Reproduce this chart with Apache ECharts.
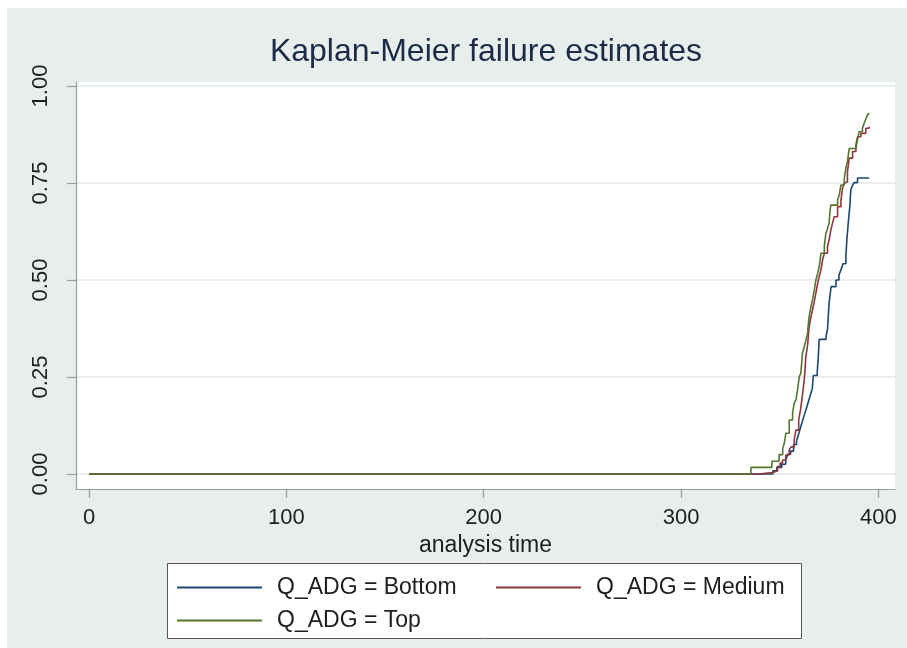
<!DOCTYPE html>
<html>
<head>
<meta charset="utf-8">
<script src="https://cdn.jsdelivr.net/npm/echarts@6/dist/echarts.min.js"></script>
<style>
  html, body { margin: 0; padding: 0; background: #ffffff; }
  #chart { width: 907px; height: 648px; }
</style>
</head>
<body>
<div id="chart"></div>
<script>
// ---- data ----
var titleText = 'Kaplan-Meier failure estimates';
var xAxisName = 'analysis time';
var xTicks = [0, 100, 200, 300, 400];
var yTicks = [0, 0.25, 0.5, 0.75, 1];
var seriesNames = ['Q_ADG = Bottom', 'Q_ADG = Medium', 'Q_ADG = Top'];

var bottomData = [
  [0,0],[346.5,0.008],[348.5,0.017],[351,0.025],[353,0.034],[354,0.051],[355.5,0.059],
  [357,0.076],[358.5,0.085],[359.5,0.102],[360.5,0.119],[361.5,0.136],[362.5,0.153],
  [363.5,0.169],[364.5,0.186],[365.5,0.203],[366.5,0.22],[367,0.254],[369,0.263],
  [369.5,0.3],[370,0.347],[373.5,0.356],[374.2,0.373],[375,0.44],[376,0.483],
  [378.5,0.5],[380,0.513],[381,0.526],[382,0.542],[383.5,0.56],[384,0.603],
  [384.7,0.646],[385.5,0.69],[386,0.732],[386.7,0.742],[387.7,0.751],[389.4,0.763],
  [395.3,0.763]
];
var mediumData = [
  [0,0],[339.6,0.004],[346.4,0.008],[348.9,0.019],[350.2,0.028],[351.4,0.036],
  [353.1,0.049],[354.8,0.062],[355.7,0.07],[357.3,0.088],[358.2,0.113],[359.6,0.139],
  [360.5,0.165],[361.2,0.191],[361.8,0.216],[362.4,0.242],[362.8,0.268],[363.2,0.302],
  [364.1,0.332],[364.9,0.38],[365.8,0.405],[366.6,0.423],[367.5,0.445],[368.3,0.466],
  [369.2,0.491],[370,0.509],[370.9,0.526],[371.7,0.552],[372.6,0.569],[374.2,0.586],
  [375,0.603],[375.9,0.629],[376.7,0.646],[377.6,0.663],[379.3,0.689],[381,0.706],
  [381.8,0.736],[382.6,0.749],[383.5,0.753],[384.3,0.779],[385.2,0.814],[386.9,0.831],
  [388.6,0.848],[389.4,0.869],[391.1,0.878],[393.6,0.891],[395.3,0.895]
];
var topData = [
  [0,0],[335.4,0.017],[346,0.033],[349.7,0.05],[351.5,0.066],[352.3,0.079],
  [353.1,0.105],[354.8,0.139],[356.5,0.156],[357.3,0.182],[358.2,0.191],[359,0.216],
  [359.9,0.251],[360.7,0.26],[361.5,0.311],[362.4,0.328],[363.3,0.345],[364.1,0.363],
  [364.5,0.388],[364.9,0.405],[365.8,0.431],[366.7,0.452],[367.5,0.474],[368.3,0.5],
  [369.2,0.517],[370,0.534],[370.9,0.569],[372.6,0.59],[373.4,0.62],[374.2,0.633],
  [375,0.646],[375.5,0.68],[375.9,0.693],[379.3,0.706],[380.2,0.72],[381,0.745],
  [382.7,0.762],[383.5,0.788],[384.3,0.805],[385.2,0.839],[388.6,0.844],[389.4,0.861],
  [390.2,0.882],[391.9,0.891],[392.8,0.904],[393.6,0.915],[394.4,0.925],[395.3,0.93]
];

// ---- styles ----
var colors = ['#1a476f', '#90353b', '#55752f'];
var FONT = '"Liberation Sans", Arial, Helvetica, sans-serif';
var BG = '#e7eeec';
var GRID_LINE = '#e0e8e7';

var chart = echarts.init(document.getElementById('chart'), null, { renderer: 'canvas' });

function lineSeries(name, data, color) {
  return {
    name: name,
    type: 'line',
    step: 'end',
    data: data,
    showSymbol: false,
    symbol: 'none',
    lineStyle: { color: color, width: 1.6 },
    itemStyle: { color: color },
    emphasis: { disabled: true },
    animation: false
  };
}

function legendAt(name, left, top) {
  return {
    data: [name],
    left: left,
    top: top,
    padding: 0,
    itemGap: 0,
    itemWidth: 85,
    itemHeight: 2,
    icon: 'rect',
    selectedMode: false,
    textStyle: { fontFamily: FONT, fontSize: 23, color: '#1e1e1e', padding: [0, 0, 0, 10] }
  };
}

var option = {
  backgroundColor: '#ffffff',
  animation: false,
  title: {
    text: titleText,
    left: 486,
    top: 36,
    textAlign: 'center',
    padding: 0,
    textStyle: { fontFamily: FONT, fontSize: 32, fontWeight: 'normal', color: '#1c2b48' }
  },
  graphic: [
    { type: 'rect', z: -10, silent: true, shape: { x: 7, y: 8, width: 900, height: 640 }, style: { fill: BG } },
    { type: 'rect', z: 1, silent: true, shape: { x: 167.5, y: 563.5, width: 634, height: 75 },
      style: { fill: '#ffffff', stroke: '#555555', lineWidth: 1 } }
  ],
  legend: [
    legendAt(seriesNames[0], 177, 576),
    legendAt(seriesNames[1], 496, 576),
    legendAt(seriesNames[2], 177, 609)
  ],
  grid: {
    left: 76, right: 12, top: 82, bottom: 159,
    show: true, backgroundColor: '#ffffff', borderWidth: 0,
    containLabel: false
  },
  xAxis: {
    type: 'value',
    min: -6.6,
    max: 408.4,
    name: xAxisName,
    nameLocation: 'middle',
    nameGap: 37,
    nameTextStyle: { fontFamily: FONT, fontSize: 23, color: '#1e1e1e' },
    axisLine: { show: true, onZero: false, lineStyle: { color: '#9c9c9c', width: 1.2 } },
    axisTick: { show: true, inside: false, length: 9, customValues: xTicks, lineStyle: { color: '#9c9c9c', width: 1.2 } },
    axisLabel: { customValues: xTicks, margin: 18, fontFamily: FONT, fontSize: 22, color: '#1e1e1e' },
    splitLine: { show: false }
  },
  yAxis: {
    type: 'value',
    min: -0.0387,
    max: 1.0103,
    axisLine: { show: true, onZero: false, lineStyle: { color: '#9c9c9c', width: 1.2 } },
    axisTick: { show: true, inside: false, length: 9, customValues: yTicks, lineStyle: { color: '#9c9c9c', width: 1.2 } },
    axisLabel: {
      customValues: yTicks, rotate: 90, margin: 24,
      fontFamily: FONT, fontSize: 22, color: '#1e1e1e',
      formatter: function (v) { return v.toFixed(2); }
    },
    splitLine: { show: true, lineStyle: { color: GRID_LINE, width: 1.5 } }
  },
  series: [
    lineSeries(seriesNames[0], bottomData, colors[0]),
    lineSeries(seriesNames[1], mediumData, colors[1]),
    lineSeries(seriesNames[2], topData, colors[2])
  ]
};

chart.setOption(option);
</script>
</body>
</html>
